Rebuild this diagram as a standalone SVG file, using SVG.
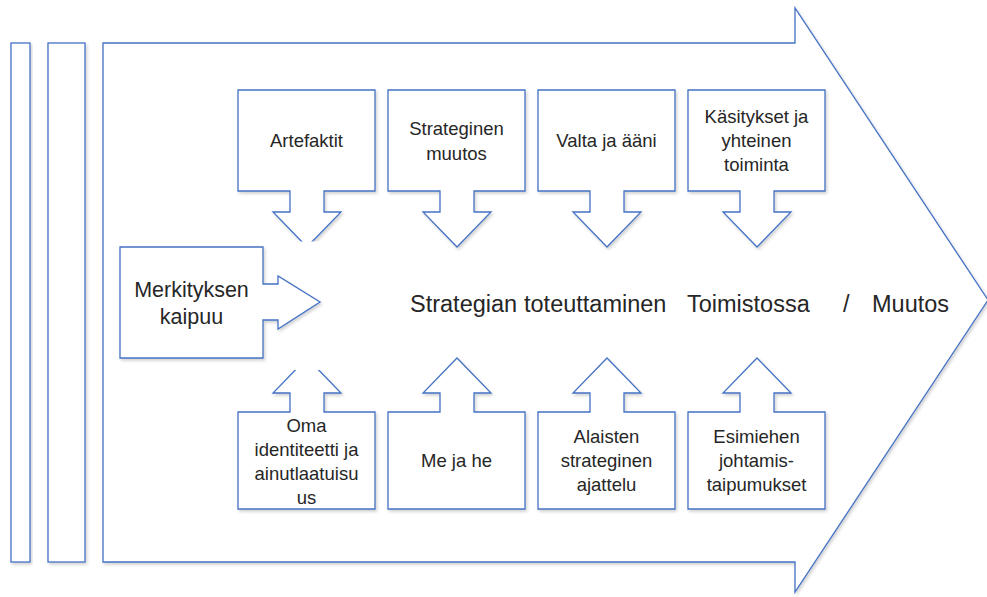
<svg xmlns="http://www.w3.org/2000/svg" width="987" height="597" viewBox="0 0 987 597">
  <defs>
    <filter id="shadow" x="-10%" y="-10%" width="125%" height="125%">
      <feDropShadow dx="1.5" dy="2" stdDeviation="1.5" flood-color="#000" flood-opacity="0.18"/>
    </filter>
  </defs>
  <style>
    .shape { fill: #ffffff; stroke: #4472c4; stroke-width: 1.3; stroke-linejoin: miter; }
    .shd { filter: url(#shadow); }
    .lbl { font-family: "Liberation Sans", Arial, sans-serif; font-size: 18.5px; fill: #262626; text-anchor: middle; }
    .big { font-family: "Liberation Sans", Arial, sans-serif; font-size: 23.5px; fill: #262626; }
    .mid { font-family: "Liberation Sans", Arial, sans-serif; font-size: 21.5px; fill: #262626; text-anchor: middle; }
  </style>

  <!-- Background: two bars and the large right-pointing arrow -->
  <g id="bar-1"><rect class="shape shd" x="11" y="43" width="19" height="519"/></g>
  <g id="bar-2"><rect class="shape shd" x="48" y="43" width="37" height="519"/></g>
  <g id="main-arrow">
    <path class="shape shd" d="M103,43 H795 V8 L988,300 L795,592 V562 H103 Z"/>
    <text class="big" y="312"><tspan x="410">Strategian</tspan><tspan x="524">toteuttaminen</tspan><tspan x="687">Toimistossa</tspan><tspan x="843">/</tspan><tspan x="872">Muutos</tspan></text>
  </g>

  <!-- Top row: callouts pointing down -->
  <g id="artefaktit">
    <path class="shape shd" d="M238,90 H375 V191 H324 V212 H341 L307,247 L273,212 H290 V191 H238 Z"/>
    <text class="lbl" x="306.5" y="147">Artefaktit</text>
  </g>
  <g id="strateginen-muutos">
    <path class="shape shd" d="M388,90 H525 V191 H474 V212 H491 L457,247 L423,212 H440 V191 H388 Z"/>
    <text class="lbl" x="456.5" y="135">Strateginen</text>
    <text class="lbl" x="456.5" y="160">muutos</text>
  </g>
  <g id="valta-ja-aani">
    <path class="shape shd" d="M538,90 H675 V191 H624 V212 H641 L607,247 L573,212 H590 V191 H538 Z"/>
    <text class="lbl" x="606.5" y="147">Valta ja ääni</text>
  </g>
  <g id="kasitykset">
    <path class="shape shd" d="M688,90 H825 V191 H774 V212 H791 L757,247 L723,212 H740 V191 H688 Z"/>
    <text class="lbl" x="756.5" y="123">Käsitykset ja</text>
    <text class="lbl" x="756.5" y="147">yhteinen</text>
    <text class="lbl" x="756.5" y="171">toiminta</text>
  </g>

  <!-- Bottom row: callouts pointing up -->
  <g id="oma-identiteetti">
    <path class="shape shd" d="M238,509 H375 V412 H324 V393 H341 L307,358 L273,393 H290 V412 H238 Z"/>
    <text class="lbl" x="306.5" y="432">Oma</text>
    <text class="lbl" x="306.5" y="456">identiteetti ja</text>
    <text class="lbl" x="306.5" y="480">ainutlaatuisu</text>
    <text class="lbl" x="306.5" y="504">us</text>
  </g>
  <g id="me-ja-he">
    <path class="shape shd" d="M388,509 H525 V412 H474 V393 H491 L457,358 L423,393 H440 V412 H388 Z"/>
    <text class="lbl" x="456.5" y="467">Me ja he</text>
  </g>
  <g id="alaisten-ajattelu">
    <path class="shape shd" d="M538,509 H675 V412 H624 V393 H641 L607,358 L573,393 H590 V412 H538 Z"/>
    <text class="lbl" x="606.5" y="443">Alaisten</text>
    <text class="lbl" x="606.5" y="467">strateginen</text>
    <text class="lbl" x="606.5" y="491">ajattelu</text>
  </g>
  <g id="esimiehen-taipumukset">
    <path class="shape shd" d="M688,509 H825 V412 H774 V393 H791 L757,358 L723,393 H740 V412 H688 Z"/>
    <text class="lbl" x="756.5" y="443">Esimiehen</text>
    <text class="lbl" x="756.5" y="467">johtamis-</text>
    <text class="lbl" x="756.5" y="491">taipumukset</text>
  </g>

  <!-- Left callout pointing right, on its own white frame -->
  <g id="merkityksen-kaipuu">
    <rect x="112" y="241.5" width="218" height="128.5" fill="#ffffff"/>
    <path class="shape shd" d="M120,247 H263 V284 H278 V276 L320,302 L278,329 V320 H263 V358 H120 Z"/>
    <text class="mid" x="191.5" y="297">Merkityksen</text>
    <text class="mid" x="191.5" y="324">kaipuu</text>
  </g>

  <g id="connectors"/>
</svg>
